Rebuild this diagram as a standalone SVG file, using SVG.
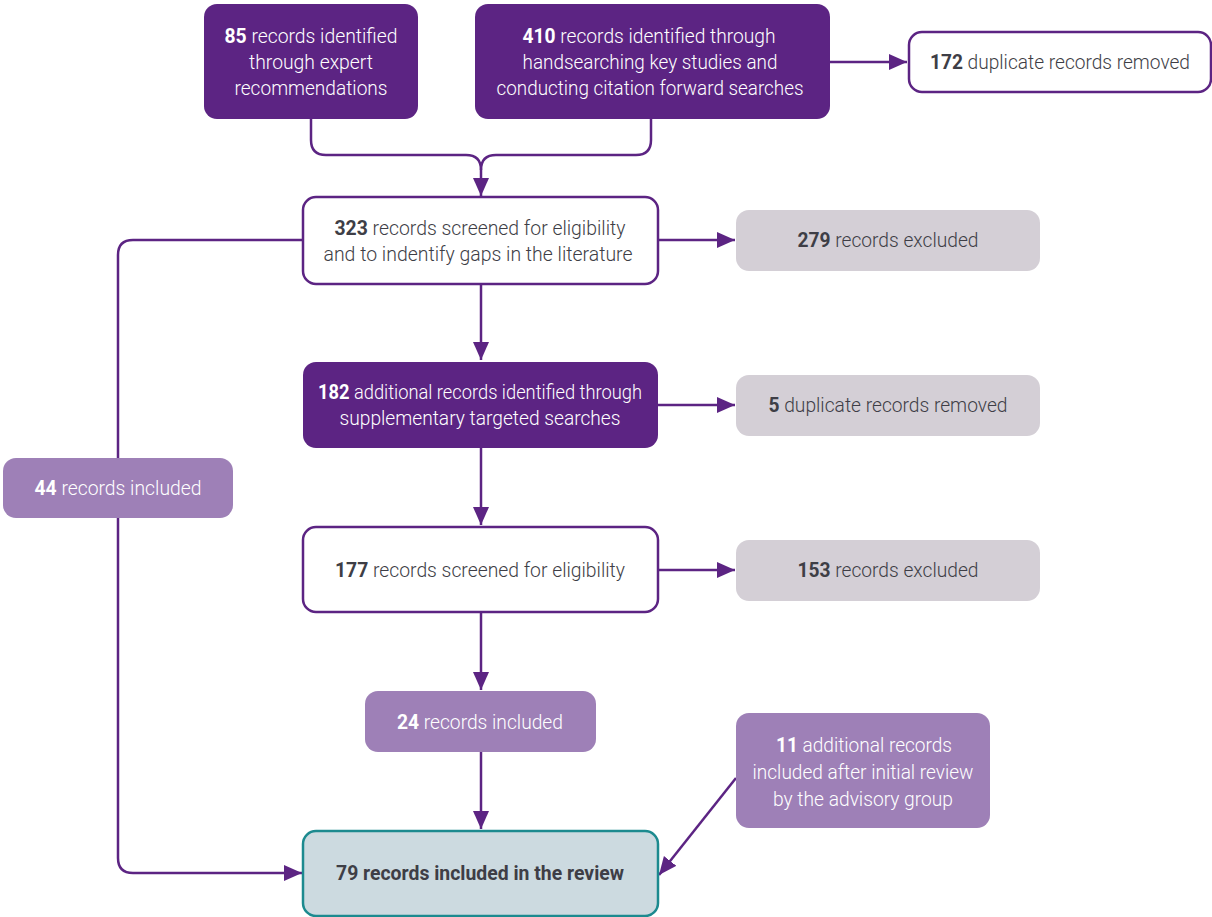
<svg xmlns="http://www.w3.org/2000/svg" width="1212" height="917" viewBox="0 0 1212 917">
<defs>
<marker id="ah" markerUnits="userSpaceOnUse" markerWidth="20" markerHeight="18" refX="18" refY="8" orient="auto">
<path d="M0,0 L18,8 L0,16 z" fill="#5C2483"/>
</marker>
<style>
text{font-family:"Roboto","Liberation Sans",sans-serif;font-size:20px;font-weight:300;text-anchor:middle}
.b{font-weight:700}
.w{fill:#ffffff}
.d{fill:#3E3E46}
.dark{fill:#5C2483}
.white{fill:#ffffff;stroke:#5C2483;stroke-width:2.5}
.grey{fill:#D4CFD6}
.lp{fill:#9E80B7}
.fin{fill:#CCDAE0;stroke:#1C8A8F;stroke-width:2.5}
.c{fill:none;stroke:#5C2483;stroke-width:2.5}
</style>
</defs>
<g id="connectors">
<path class="c" d="M311,119 V140 Q311,155 326,155 H466 Q481,155 481,170 V196" marker-end="url(#ah)"/>
<path class="c" d="M651,119 V140 Q651,155 636,155 H496 Q481,155 481,170"/>
<path class="c" d="M830,62 H907" marker-end="url(#ah)"/>
<path class="c" d="M658,240 H735" marker-end="url(#ah)"/>
<path class="c" d="M303,240 H133 Q118,240 118,255 V858 Q118,873 133,873 H302" marker-end="url(#ah)"/>
<path class="c" d="M481,284 V360" marker-end="url(#ah)"/>
<path class="c" d="M658,405 H735" marker-end="url(#ah)"/>
<path class="c" d="M481,448 V525" marker-end="url(#ah)"/>
<path class="c" d="M658,570 H735" marker-end="url(#ah)"/>
<path class="c" d="M481,612 V690" marker-end="url(#ah)"/>
<path class="c" d="M481,752 V829" marker-end="url(#ah)"/>
<path class="c" d="M736,778 L659,875" marker-end="url(#ah)"/>
</g>
<g id="n85">
<rect class="dark" x="204" y="4" width="214" height="115" rx="13"/>
<text class="w" x="311" y="43" textLength="173" lengthAdjust="spacingAndGlyphs"><tspan class="b">85</tspan> records identified</text>
<text class="w" x="311" y="69" textLength="124" lengthAdjust="spacingAndGlyphs">through expert</text>
<text class="w" x="311" y="95" textLength="153" lengthAdjust="spacingAndGlyphs">recommendations</text>
</g>
<g id="n410">
<rect class="dark" x="475" y="4" width="355" height="115" rx="13"/>
<text class="w" x="649" y="43" textLength="253" lengthAdjust="spacingAndGlyphs"><tspan class="b">410</tspan> records identified through</text>
<text class="w" x="650" y="69" textLength="255" lengthAdjust="spacingAndGlyphs">handsearching key studies and</text>
<text class="w" x="650" y="95" textLength="307" lengthAdjust="spacingAndGlyphs">conducting citation forward searches</text>
</g>
<g id="n172">
<rect class="white" x="909" y="32" width="302" height="60" rx="13"/>
<text class="d" x="1060" y="69" textLength="260" lengthAdjust="spacingAndGlyphs"><tspan class="b">172</tspan> duplicate records removed</text>
</g>
<g id="n323">
<rect class="white" x="303" y="197" width="355" height="87" rx="13"/>
<text class="d" x="480" y="235" textLength="291" lengthAdjust="spacingAndGlyphs"><tspan class="b">323</tspan> records screened for eligibility</text>
<text class="d" x="478" y="261" textLength="309" lengthAdjust="spacingAndGlyphs">and to indentify gaps in the literature</text>
</g>
<g id="n279">
<rect class="grey" x="736" y="210" width="304" height="61" rx="13"/>
<text class="d" x="888" y="247" textLength="181" lengthAdjust="spacingAndGlyphs"><tspan class="b">279</tspan> records excluded</text>
</g>
<g id="n44">
<rect class="lp" x="3" y="458" width="230" height="60" rx="13"/>
<text class="w" x="118" y="495" textLength="167" lengthAdjust="spacingAndGlyphs"><tspan class="b">44</tspan> records included</text>
</g>
<g id="n182">
<rect class="dark" x="303" y="362" width="355" height="86" rx="13"/>
<text class="w" x="480" y="399" textLength="324" lengthAdjust="spacingAndGlyphs"><tspan class="b">182</tspan> additional records identified through</text>
<text class="w" x="480" y="425" textLength="281" lengthAdjust="spacingAndGlyphs">supplementary targeted searches</text>
</g>
<g id="n5">
<rect class="grey" x="736" y="375" width="304" height="61" rx="13"/>
<text class="d" x="888" y="412" textLength="239" lengthAdjust="spacingAndGlyphs"><tspan class="b">5</tspan> duplicate records removed</text>
</g>
<g id="n177">
<rect class="white" x="303" y="527" width="355" height="85" rx="13"/>
<text class="d" x="480" y="577" textLength="290" lengthAdjust="spacingAndGlyphs"><tspan class="b">177</tspan> records screened for eligibility</text>
</g>
<g id="n153">
<rect class="grey" x="736" y="540" width="304" height="61" rx="13"/>
<text class="d" x="888" y="577" textLength="181" lengthAdjust="spacingAndGlyphs"><tspan class="b">153</tspan> records excluded</text>
</g>
<g id="n24">
<rect class="lp" x="365" y="691" width="231" height="61" rx="13"/>
<text class="w" x="480" y="729" textLength="166" lengthAdjust="spacingAndGlyphs"><tspan class="b">24</tspan> records included</text>
</g>
<g id="n11">
<rect class="lp" x="736" y="713" width="254" height="115" rx="13"/>
<text class="w" x="864" y="752" textLength="176" lengthAdjust="spacingAndGlyphs"><tspan class="b">11</tspan> additional records</text>
<text class="w" x="863" y="779" textLength="221" lengthAdjust="spacingAndGlyphs">included after initial review</text>
<text class="w" x="863" y="806" textLength="180" lengthAdjust="spacingAndGlyphs">by the advisory group</text>
</g>
<g id="n79">
<rect class="fin" x="303" y="831" width="355" height="85" rx="13"/>
<text class="d b" x="480" y="880" textLength="288" lengthAdjust="spacingAndGlyphs">79 records included in the review</text>
</g>
</svg>
